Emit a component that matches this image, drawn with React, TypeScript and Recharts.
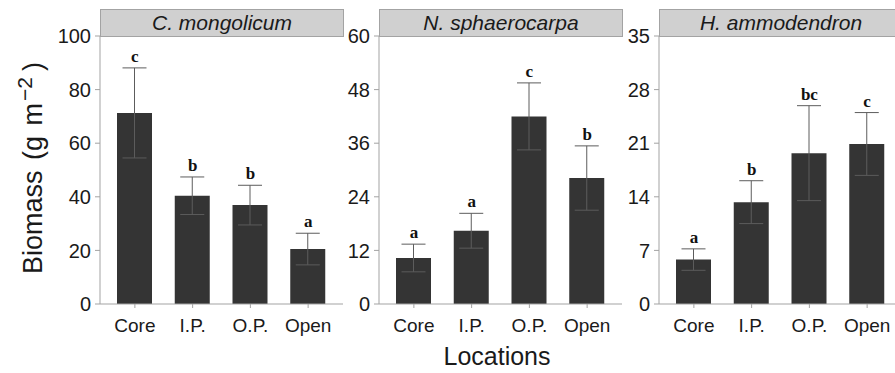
import { ComposedChart, Bar, XAxis, YAxis, ErrorBar, ReferenceDot } from 'recharts';

const LOCATIONS = ['Core', 'I.P.', 'O.P.', 'Open'];

const mongolicumMean = [71.3, 40.4, 36.9, 20.5];
const mongolicumSe = [16.8, 7.0, 7.4, 5.9];
const mongolicumLetters = ['c', 'b', 'b', 'a'];
const mongolicumTicks = [0, 20, 40, 60, 80, 100];

const sphaerocarpaMean = [10.3, 16.4, 42.0, 28.2];
const sphaerocarpaSe = [3.1, 3.9, 7.5, 7.2];
const sphaerocarpaLetters = ['a', 'a', 'c', 'b'];
const sphaerocarpaTicks = [0, 12, 24, 36, 48, 60];

const ammodendronMean = [5.8, 13.3, 19.7, 20.9];
const ammodendronSe = [1.4, 2.8, 6.2, 4.1];
const ammodendronLetters = ['a', 'b', 'bc', 'c'];
const ammodendronTicks = [0, 7, 14, 21, 28, 35];

const SANS = '"Liberation Sans", Arial, Helvetica, sans-serif';
const SERIF = '"Liberation Serif", "Times New Roman", serif';
const FRAME = '#a3a3a3';

const PLOT_TOP = 36;
const PLOT_WIDTH = 243;
const AXIS_W = 45;
const CHART_H = 373;

interface PanelProps {
  title: string;
  means: number[];
  errors: number[];
  letters: string[];
  ticks: number[];
  plotLeft: number;
}

function SpeciesPanel({ title, means, errors, letters, ticks, plotLeft }: PanelProps) {
  const rows = LOCATIONS.map((loc, i) => ({
    loc,
    mean: means[i],
    se: errors[i],
    letter: letters[i],
  }));
  const yMax = ticks[ticks.length - 1];

  return (
    <>
      <div
        style={{
          position: 'absolute',
          left: plotLeft,
          top: 9,
          width: PLOT_WIDTH + 1,
          height: 28,
          boxSizing: 'border-box',
          background: '#d0d0d0',
          border: `1px solid ${FRAME}`,
          fontFamily: SANS,
          fontStyle: 'italic',
          fontSize: 21,
          lineHeight: '26px',
          textAlign: 'center',
          color: '#1a1a1a',
        }}
      >
        {title}
      </div>
      <div style={{ position: 'absolute', left: plotLeft - AXIS_W, top: 0 }}>
        <ComposedChart
          width={AXIS_W + PLOT_WIDTH + 1}
          height={CHART_H}
          data={rows}
          margin={{ top: PLOT_TOP, right: 1, bottom: 39, left: 0 }}
        >
          <XAxis
            dataKey="loc"
            height={30}
            padding={{ left: 6, right: 6 }}
            tickSize={4}
            tickMargin={11}
            stroke={FRAME}
            tick={{ fontSize: 19, fill: '#1a1a1a', fontFamily: SANS }}
          />
          <YAxis
            width={AXIS_W}
            domain={[0, yMax]}
            ticks={ticks}
            tickSize={5}
            tickMargin={4}
            stroke={FRAME}
            interval={0}
            allowDataOverflow
            tick={{ fontSize: 20, fill: '#1a1a1a', fontFamily: SANS }}
          />
          {/* right-hand edge of the panel frame */}
          <YAxis
            yAxisId="frame"
            orientation="right"
            width={0}
            tick={false}
            tickLine={false}
            stroke={FRAME}
          />
          <Bar dataKey="mean" fill="#343434" barSize={35} isAnimationActive={false}>
            <ErrorBar
              dataKey="se"
              width={12}
              stroke="#5c5c5c"
              strokeWidth={1}
              isAnimationActive={false}
            />
          </Bar>
          {rows.map((r) => (
            <ReferenceDot
              key={r.loc}
              x={r.loc}
              y={r.mean + r.se}
              r={0}
              stroke="none"
              label={{
                value: r.letter,
                position: 'top',
                offset: 6,
                fill: '#111',
                fontSize: 17,
                fontWeight: 'bold',
                fontFamily: SERIF,
              }}
            />
          ))}
        </ComposedChart>
      </div>
    </>
  );
}

export default function App() {
  return (
    <div
      style={{
        position: 'absolute',
        left: 0,
        top: 0,
        width: 895,
        height: 373,
        overflow: 'hidden',
        background: '#fff',
      }}
    >
      <div
        style={{
          position: 'absolute',
          left: 31,
          top: 168,
          transform: 'translate(-50%, -50%) rotate(-90deg)',
          whiteSpace: 'nowrap',
          fontFamily: SANS,
          fontSize: 27,
          wordSpacing: 3,
          color: '#1a1a1a',
        }}
      >
        Biomass (g m<sup style={{ fontSize: 21, marginLeft: 2 }}>−2</sup>
        <span style={{ marginLeft: 6 }}>)</span>
      </div>
      <SpeciesPanel
        title="C. mongolicum"
        means={mongolicumMean}
        errors={mongolicumSe}
        letters={mongolicumLetters}
        ticks={mongolicumTicks}
        plotLeft={100}
      />
      <SpeciesPanel
        title="N. sphaerocarpa"
        means={sphaerocarpaMean}
        errors={sphaerocarpaSe}
        letters={sphaerocarpaLetters}
        ticks={sphaerocarpaTicks}
        plotLeft={379}
      />
      <SpeciesPanel
        title="H. ammodendron"
        means={ammodendronMean}
        errors={ammodendronSe}
        letters={ammodendronLetters}
        ticks={ammodendronTicks}
        plotLeft={659}
      />
      <div
        style={{
          position: 'absolute',
          left: 497,
          top: 342,
          transform: 'translateX(-50%)',
          fontFamily: SANS,
          fontSize: 25,
          color: '#1a1a1a',
          whiteSpace: 'nowrap',
        }}
      >
        Locations
      </div>
    </div>
  );
}
